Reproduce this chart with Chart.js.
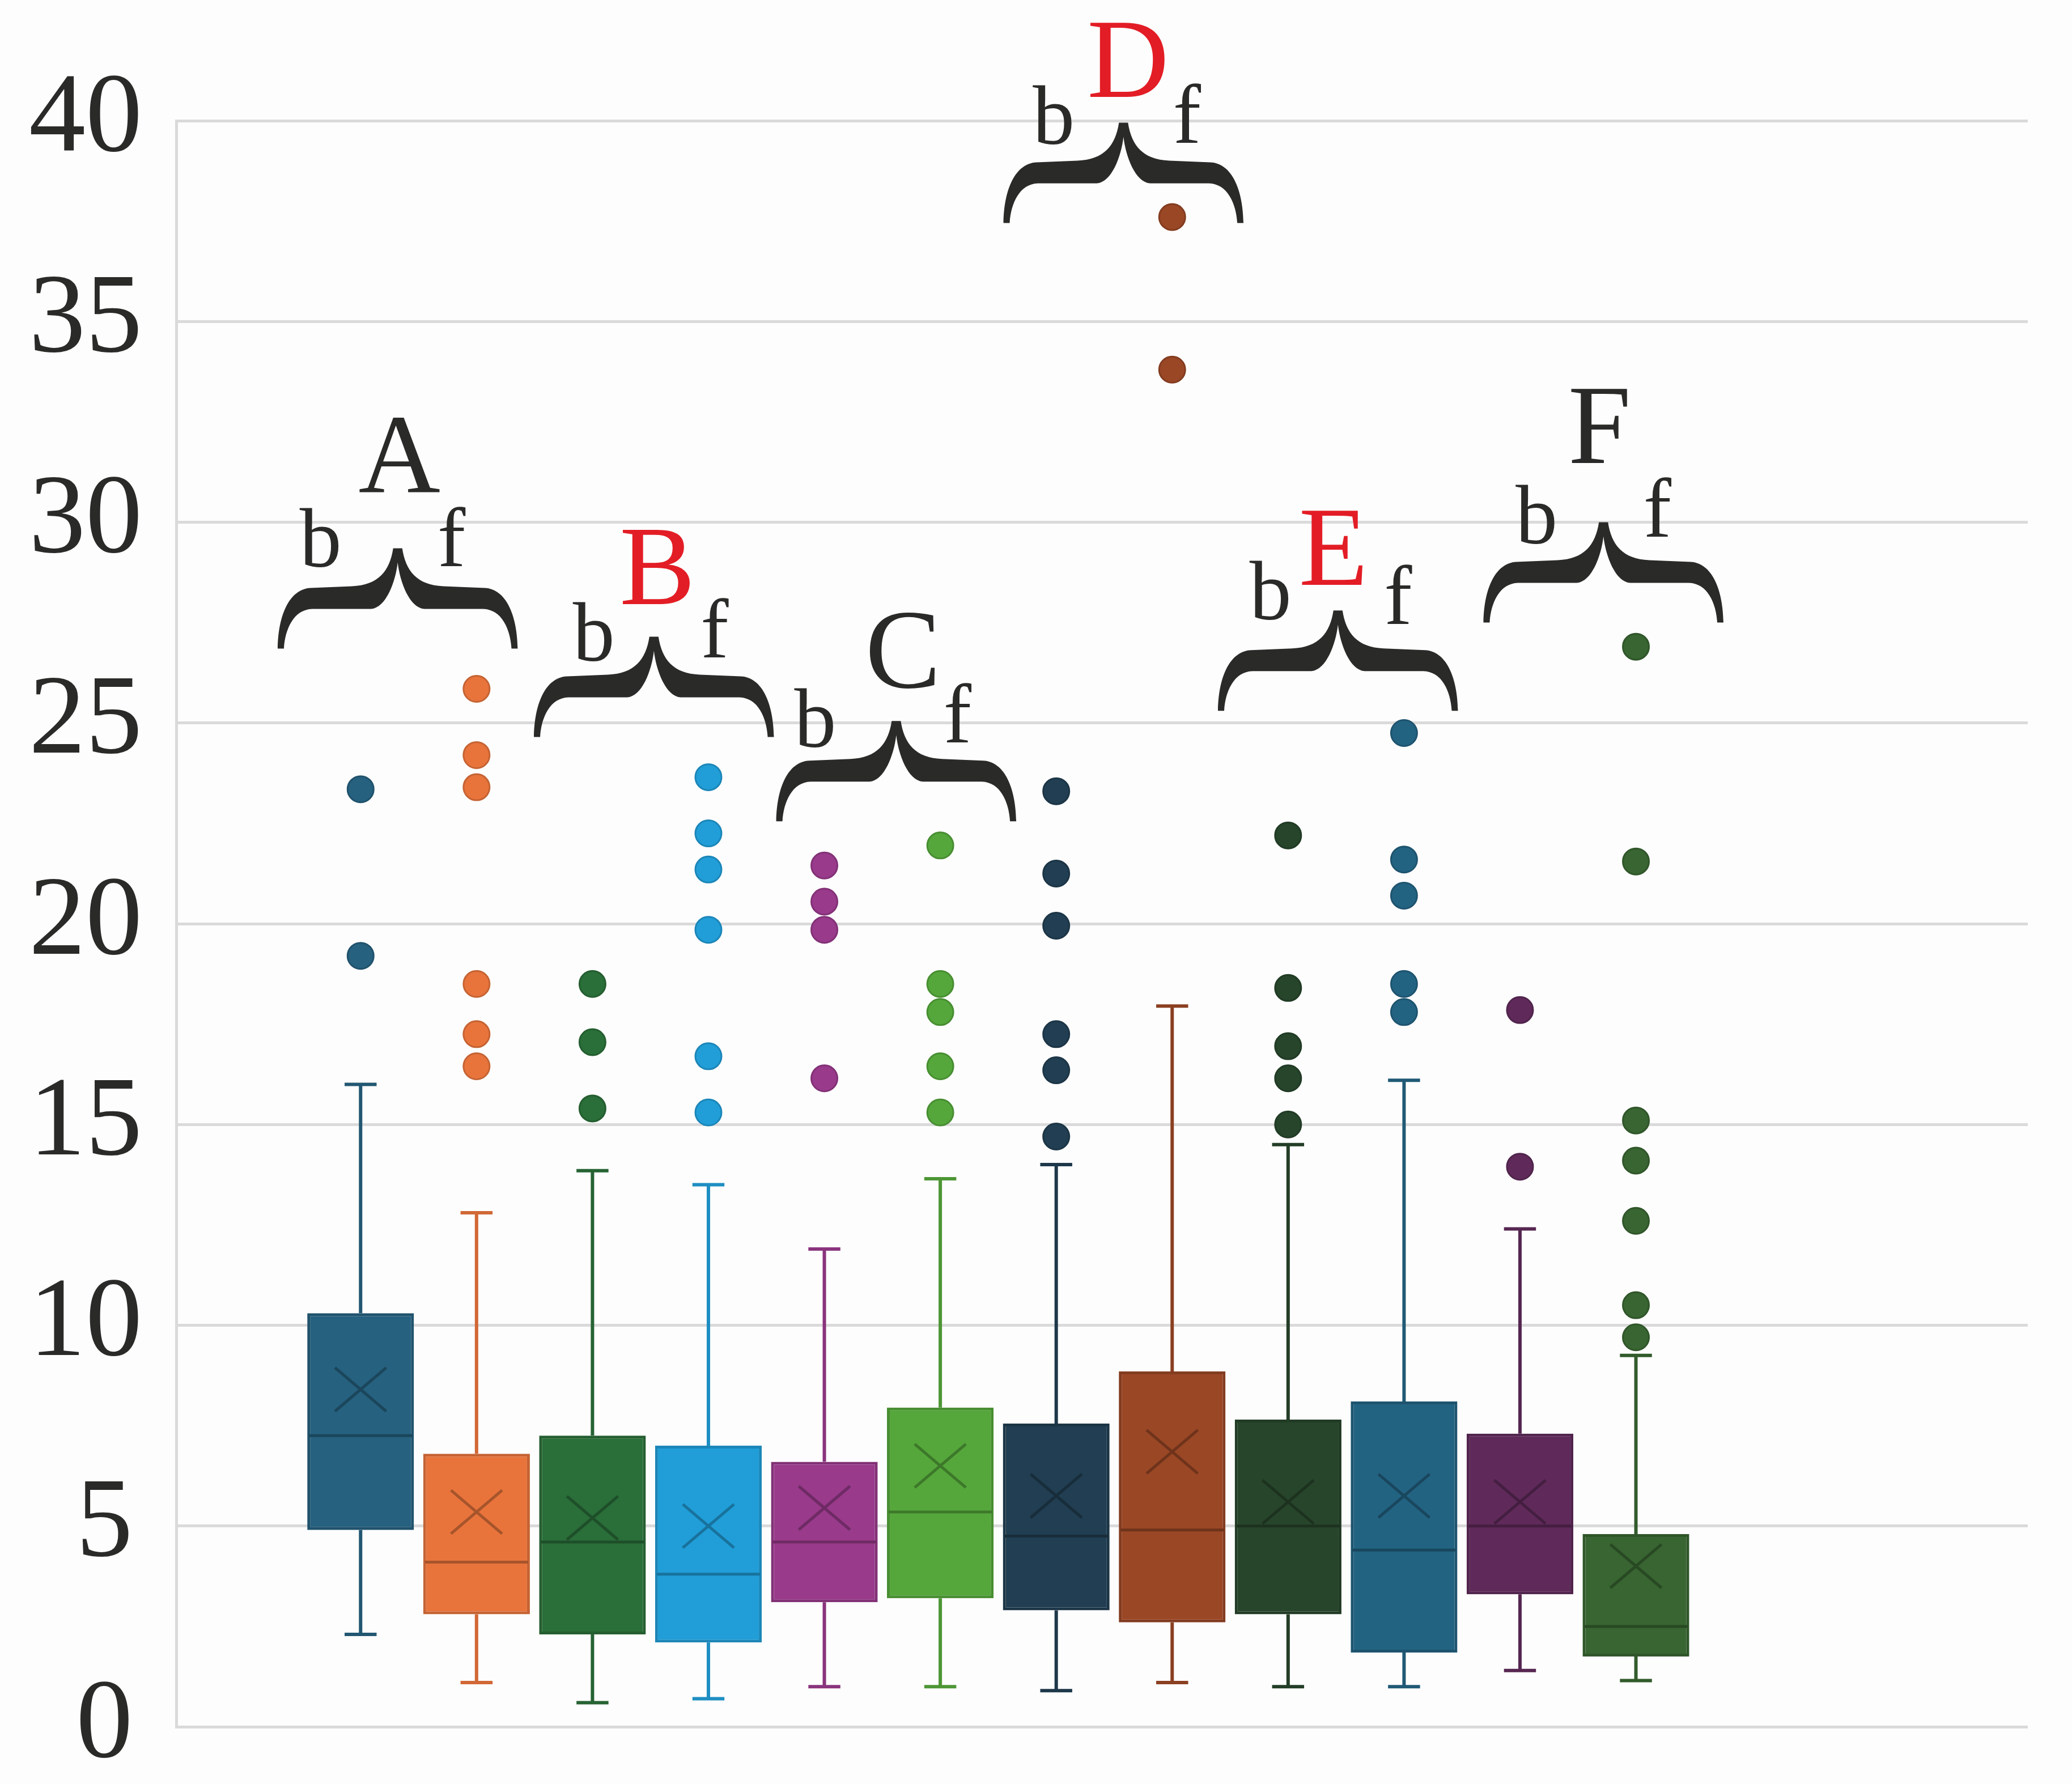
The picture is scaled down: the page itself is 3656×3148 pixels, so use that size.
<!DOCTYPE html>
<html>
<head>
<meta charset="utf-8">
<script src="https://cdn.jsdelivr.net/npm/chart.js@4.4.1/dist/chart.umd.min.js"></script>
<style>
  html, body { margin: 0; padding: 0; background: #fdfdfd; }
  canvas { display: block; }
</style>
</head>
<body>
<canvas id="boxChart" width="3656" height="3148" style="width:3656px;height:3148px"></canvas>
<script>
// box order: A b, A f, B b, B f, ... F f
const categories = ['A b', 'A f', 'B b', 'B f', 'C b', 'C f', 'D b', 'D f', 'E b', 'E f', 'F b', 'F f'];
const whiskerLow  = [2.3, 1.1, 0.6, 0.7, 1.0, 1.0, 0.9, 1.1, 1.0, 1.0, 1.4, 1.15];
const q1          = [4.9, 2.8, 2.3, 2.1, 3.1, 3.2, 2.9, 2.6, 2.8, 1.85, 3.3, 1.75];
const median      = [7.25, 4.1, 4.6, 3.8, 4.6, 5.35, 4.75, 4.9, 5.0, 4.4, 5.0, 2.5];
const q3          = [10.3, 6.8, 7.25, 7.0, 6.6, 7.95, 7.55, 8.85, 7.65, 8.1, 7.3, 4.8];
const whiskerHigh = [16.0, 12.8, 13.85, 13.5, 11.9, 13.65, 14.0, 17.95, 14.5, 16.1, 12.4, 9.25];
const means       = [8.4, 5.35, 5.2, 5.0, 5.45, 6.5, 5.75, 6.85, 5.6, 5.75, 5.6, 4.0];
const outliers = [
  [23.35, 19.2],
  [25.85, 24.2, 23.4, 18.5, 17.25, 16.45],
  [18.5, 17.05, 15.4],
  [23.65, 22.25, 21.35, 19.85, 16.7, 15.3],
  [21.45, 20.55, 19.85, 16.15],
  [21.95, 18.5, 17.8, 16.45, 15.3],
  [23.3, 21.25, 19.95, 17.25, 16.35, 14.7],
  [37.6, 33.8],
  [22.2, 18.4, 16.95, 16.15, 15.0],
  [24.75, 21.6, 20.7, 18.5, 17.8],
  [17.85, 13.95],
  [26.9, 21.55, 15.1, 14.1, 12.6, 10.5, 9.7]
];
const yTicks = [0, 5, 10, 15, 20, 25, 30, 35, 40];
const boxColors = ['#26617f', '#e8743c', '#2a6e39', '#219ed8', '#993a8b', '#55a73b',
                   '#213e52', '#9a4726', '#27452b', '#236382', '#5f2a5a', '#386531'];

// group labels above the pairs
const groups      = ['A', 'B', 'C', 'D', 'E', 'F'];
const groupRed    = [false, true, false, true, true, false];
const braceX      = [0.32, 2.53, 4.62, 6.58, 8.43, 10.72];   // in box-index units
const braceTip    = [29.35, 27.15, 25.05, 39.95, 27.8, 30.0];  // in value units

// text offsets from the brace tip, px
const letterOff = [[3, -100], [6, -57], [12, -59], [8, -46], [-8, -45], [-7, -105]];
const bOff = [[-136, 32], [-106, 43], [-143, 46], [-123, 37], [-119, 16], [-118, 37]];
const fOff = [[95, 31], [107, 37], [108, 38], [112, 35], [106, 24], [95, 25]];

const INK = '#2a2a28';
const RED = '#e31d25';
const SERIF = '"Liberation Serif"';

function shade(hex, k) {
  const n = parseInt(hex.slice(1), 16);
  const r = Math.round(((n >> 16) & 255) * k);
  const g = Math.round(((n >> 8) & 255) * k);
  const b = Math.round((n & 255) * k);
  return 'rgb(' + r + ',' + g + ',' + b + ')';
}

const boxData = categories.map((c, i) => ({ x: i, y: [q1[i], q3[i]] }));
const outlierData = [];
const outlierFill = [];
const outlierEdge = [];
outliers.forEach((list, i) => {
  list.forEach(v => {
    outlierData.push({ x: i, y: v });
    outlierFill.push(boxColors[i]);
    outlierEdge.push(shade(boxColors[i], 0.85));
  });
});

const background = {
  id: 'background',
  beforeDraw(chart) {
    const ctx = chart.ctx;
    ctx.save();
    ctx.fillStyle = '#fdfdfd';
    ctx.fillRect(0, 0, chart.width, chart.height);
    ctx.restore();
  }
};

// whiskers behind the boxes, median and mean marks on top
const boxParts = {
  id: 'boxParts',
  beforeDatasetsDraw(chart) {
    const { ctx, scales: { x, y } } = chart;
    const bars = chart.getDatasetMeta(0).data;
    ctx.save();
    ctx.lineWidth = 6;
    categories.forEach((c, i) => {
      const px = x.getPixelForValue(i);
      const cap = bars[i].width * 0.15;
      ctx.strokeStyle = shade(boxColors[i], 0.9);
      ctx.beginPath();
      ctx.moveTo(px, y.getPixelForValue(whiskerLow[i]));
      ctx.lineTo(px, y.getPixelForValue(q1[i]));
      ctx.moveTo(px, y.getPixelForValue(q3[i]));
      ctx.lineTo(px, y.getPixelForValue(whiskerHigh[i]));
      [whiskerLow[i], whiskerHigh[i]].forEach(v => {
        const py = y.getPixelForValue(v);
        ctx.moveTo(px - cap, py);
        ctx.lineTo(px + cap, py);
      });
      ctx.stroke();
    });
    ctx.restore();
  },
  afterDatasetsDraw(chart) {
    const { ctx, scales: { x, y } } = chart;
    const bars = chart.getDatasetMeta(0).data;
    ctx.save();
    ctx.lineWidth = 5;
    categories.forEach((c, i) => {
      const px = x.getPixelForValue(i);
      const half = bars[i].width / 2 - 3;
      ctx.strokeStyle = shade(boxColors[i], 0.72);
      const pm = y.getPixelForValue(median[i]);
      ctx.beginPath();
      ctx.moveTo(px - half, pm);
      ctx.lineTo(px + half, pm);
      ctx.stroke();
      const pa = y.getPixelForValue(means[i]);
      const s = bars[i].width * 0.24;
      ctx.beginPath();
      ctx.moveTo(px - s, pa - s * 0.85);
      ctx.lineTo(px + s, pa + s * 0.85);
      ctx.moveTo(px + s, pa - s * 0.85);
      ctx.lineTo(px - s, pa + s * 0.85);
      ctx.stroke();
    });
    ctx.restore();
  }
};

function drawBrace(ctx, cx, top, w) {
  const k = w / 426;
  ctx.save();
  ctx.translate(cx, top);
  ctx.scale(k, 1);
  ctx.beginPath();
  ctx.moveTo(-212, 177);
  ctx.bezierCurveTo(-211, 117, -191, 72, -154, 70);
  ctx.lineTo(-81, 67);
  ctx.bezierCurveTo(-34, 65, -14, 40, -8, 0);
  ctx.lineTo(8, 0);
  ctx.bezierCurveTo(14, 40, 34, 65, 81, 67);
  ctx.lineTo(154, 70);
  ctx.bezierCurveTo(191, 72, 211, 117, 212, 177);
  ctx.lineTo(201, 177);
  ctx.bezierCurveTo(199, 143, 184, 108, 151, 107);
  ctx.lineTo(47, 107);
  ctx.bezierCurveTo(21, 105, 4, 60, 0, 25);
  ctx.bezierCurveTo(-4, 60, -21, 105, -47, 107);
  ctx.lineTo(-151, 107);
  ctx.bezierCurveTo(-184, 108, -199, 143, -201, 177);
  ctx.closePath();
  ctx.fillStyle = INK;
  ctx.fill();
  ctx.restore();
}

const groupLabels = {
  id: 'groupLabels',
  afterDraw(chart) {
    const { ctx, scales: { x, y } } = chart;
    const unit = x.getPixelForValue(1) - x.getPixelForValue(0);
    ctx.save();
    ctx.textAlign = 'center';
    ctx.textBaseline = 'alphabetic';
    groups.forEach((g, i) => {
      const cx = x.getPixelForValue(braceX[i]);
      const top = y.getPixelForValue(braceTip[i]);
      drawBrace(ctx, cx, top, unit * 2.08);
      ctx.font = '200px ' + SERIF;
      ctx.fillStyle = groupRed[i] ? RED : INK;
      ctx.fillText(g, cx + letterOff[i][0], top + letterOff[i][1]);
      ctx.font = '148px ' + SERIF;
      ctx.fillStyle = INK;
      ctx.fillText('b', cx + bOff[i][0], top + bOff[i][1]);
      ctx.fillText('f', cx + fOff[i][0], top + fOff[i][1]);
    });
    ctx.restore();
  }
};

const ctx = document.getElementById('boxChart').getContext('2d');
const boxChart = new Chart(ctx, {
  type: 'bar',
  data: {
    datasets: [{
      label: 'boxes',
      data: boxData,
      backgroundColor: boxColors,
      borderColor: boxColors.map(c => shade(c, 0.85)),
      borderWidth: 5,
      borderSkipped: false,
      barPercentage: 0.92,
      categoryPercentage: 1.0
    }, {
      type: 'scatter',
      label: 'outliers',
      data: outlierData,
      pointBackgroundColor: outlierFill,
      pointBorderColor: outlierEdge,
      pointBorderWidth: 3,
      pointRadius: 23,
      showLine: false
    }]
  },
  options: {
    responsive: false,
    devicePixelRatio: 1,
    animation: false,
    layout: { padding: { top: 213, right: 78, bottom: 101, left: 0 } },
    plugins: { legend: { display: false }, tooltip: { enabled: false } },
    scales: {
      x: {
        type: 'linear',
        display: false,
        offset: false,
        min: -1.59,
        max: 14.38,
        afterBuildTicks(scale) { scale.ticks = categories.map((c, i) => ({ value: i })); }
      },
      y: {
        min: 0,
        max: 40,
        afterFit(scale) {
          scale.width = 311;
          scale.paddingTop = 0;
          scale.paddingBottom = 0;
        },
        afterBuildTicks(scale) { scale.ticks = yTicks.map(v => ({ value: v })); },
        ticks: {
          color: INK,
          padding: 60,
          font: { family: SERIF, size: 200, lineHeight: 1 },
          // single digits sit a little further left in the original
          callback: v => (v < 10 ? v + '\u200A' : String(v))
        },
        grid: { color: '#dadada', lineWidth: 5, drawTicks: false },
        border: { display: true, color: '#dadada', width: 5 }
      }
    }
  },
  plugins: [background, boxParts, groupLabels]
});
</script>
</body>
</html>
